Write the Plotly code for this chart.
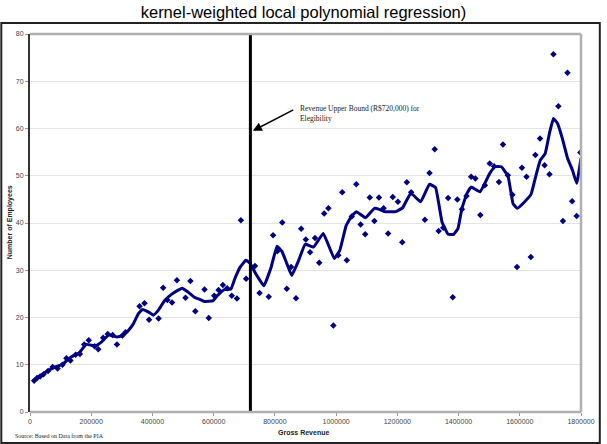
import plotly.graph_objects as go

# ---- data ----
revenue_k = [13.5, 23, 33, 44, 59, 74, 90, 106, 119, 132, 149, 163, 177, 192, 211, 223, 239, 254, 270, 284,
             302, 312, 358, 374, 389, 420, 435, 449, 464, 480, 508, 524, 540, 570, 584, 602, 616, 630, 644, 659,
             676, 689, 706, 735, 750, 780, 794, 808, 824, 839, 853, 869, 886, 901, 915, 931, 945, 961, 975, 991,
             1007, 1020, 1035, 1051, 1066, 1080, 1095, 1110, 1125, 1140, 1155, 1170, 1185, 1202, 1216, 1231, 1245,
             1290, 1305, 1322, 1335, 1350, 1366, 1381, 1396, 1411, 1426, 1441, 1455, 1471, 1486, 1502, 1516, 1532,
             1545, 1561, 1576, 1591, 1607, 1622, 1636, 1651, 1666, 1681, 1697, 1710, 1726, 1741, 1756, 1771, 1786, 1798]
employees = [6.6, 7.2, 7.5, 8.0, 8.7, 9.5, 9.2, 10.0, 11.4, 10.9, 12.1, 12.3, 14.3, 15.2, 13.9, 13.3, 15.7, 16.5, 16.3, 14.3,
             16.2, 16.9, 22.4, 23.0, 19.5, 19.8, 26.3, 23.7, 23.2, 27.9, 24.2, 27.7, 21.3, 25.9, 19.9, 24.6, 25.8, 26.9, 26.2, 24.6,
             24.0, 40.6, 28.2, 30.9, 25.2, 24.4, 37.4, 34.0, 40.1, 26.1, 30.7, 24.1, 38.8, 36.5, 33.8, 36.8, 31.6, 42.0, 43.1, 18.3,
             33.2, 46.5, 32.1, 41.4, 48.2, 39.7, 37.6, 45.4, 40.4, 45.4, 43.1, 37.8, 45.5, 44.5, 35.9, 48.6, 46.5,
             40.7, 50.6, 55.6, 38.3, 39.0, 45.3, 24.3, 45.0, 42.9, 45.7, 49.8, 49.4, 41.7, 48.0, 52.6, 52.0, 48.7,
             56.6, 50.1, 46.0, 30.7, 51.7, 49.8, 32.8, 54.4, 57.9, 52.2, 50.3, 75.7, 64.7, 40.4, 71.8, 44.6, 41.5, 54.9]

fit_x_k = [9, 41, 74, 106, 133, 160, 184, 214, 235, 257, 282, 300, 322, 338, 354, 367, 386, 403, 419, 440,
           462, 484, 497, 516, 537, 548, 570, 597, 613, 635, 656, 669, 686, 705, 719, 737, 764, 788, 807, 823,
           839, 855, 877, 899, 926, 958, 994, 1012, 1033, 1050, 1066, 1096, 1125, 1141, 1157, 1195, 1217, 1244,
           1276, 1305, 1325, 1346, 1366, 1384, 1398, 1411, 1427, 1441, 1470, 1502, 1519, 1540, 1562, 1578, 1592,
           1616, 1637, 1653, 1667, 1683, 1697, 1710, 1723, 1739, 1756, 1772, 1786, 1800]
fit_y = [6.5, 8.0, 9.3, 10.1, 11.6, 12.5, 14.3, 14.0, 14.9, 16.3, 15.9, 16.1, 17.3, 18.7, 20.8, 21.7, 21.2, 20.5, 21.5, 23.6,
         24.9, 25.8, 26.2, 25.4, 24.3, 24.0, 23.4, 23.5, 24.7, 25.9, 26.0, 28.2, 30.6, 32.1, 31.5, 29.3, 26.7, 30.7, 35.1, 34.0,
         31.4, 28.9, 32.0, 35.5, 34.9, 37.8, 32.5, 34.2, 39.5, 41.4, 42.4, 41.1, 43.1, 42.9, 42.4, 42.4, 43.2, 46.3,
         44.5, 48.2, 47.5, 40.2, 37.6, 37.6, 38.8, 43.1, 46.2, 47.6, 46.6, 50.5, 51.9, 51.9, 49.8, 44.1, 43.1,
         44.5, 46.1, 50.1, 53.3, 54.7, 59.0, 62.1, 61.1, 57.9, 53.7, 51.2, 48.4, 53.7]

x_ticks = [0, 200000, 400000, 600000, 800000, 1000000, 1200000, 1400000, 1600000, 1800000]
x_tick_labels = ["0", "200000", "400000", "600000", "800000", "1000000", "1200000", "1400000", "1600000", "1800000"]
y_ticks = [0, 10, 20, 30, 40, 50, 60, 70, 80]
bound = 720000

rev = [v * 1000 for v in revenue_k]
fit_x = [v * 1000 for v in fit_x_k]

NAVY = "#000080"
fig = go.Figure()
fig.add_trace(go.Scatter(x=rev, y=employees, mode="markers",
                         marker=dict(symbol="diamond", size=5, color=NAVY), showlegend=False))
fig.add_trace(go.Scatter(x=fit_x, y=fit_y, mode="lines",
                         line=dict(color=NAVY, width=3, shape="spline", smoothing=0.3), showlegend=False))
fig.add_trace(go.Scatter(x=[bound, bound], y=[0, 80], mode="lines",
                         line=dict(color="black", width=3), showlegend=False))

fig.update_layout(
    width=607, height=444,
    margin=dict(l=30, r=20, t=34, b=32),
    paper_bgcolor="white", plot_bgcolor="white",
    font=dict(family="Liberation Sans, Arial", size=7, color="#333333"),
    title=dict(text="kernel-weighted local polynomial regression)", x=0.5, xanchor="center",
               y=1 - 12 / 444, yanchor="middle",
               font=dict(family="Liberation Sans, Arial", size=16.5, color="black")),
    xaxis=dict(range=[0, 1800000], tickvals=x_ticks, ticktext=x_tick_labels, showgrid=False,
               zeroline=False, showline=False, ticks="outside", ticklen=3, tickcolor="#999999",
               tickfont=dict(size=7, color="#444444")),
    yaxis=dict(range=[0, 80], tickvals=y_ticks, showgrid=True, gridcolor="#e4e4e4", gridwidth=1,
               zeroline=False, showline=True, linecolor="#333333", linewidth=2,
               ticks="outside", ticklen=3, tickcolor="#999999",
               tickfont=dict(size=7, color="#444444")),
)

# plot-area frame (gray) on top/right/bottom
fig.add_shape(type="line", xref="paper", yref="paper", x0=0, x1=1, y0=1, y1=1,
              line=dict(color="#b0b0b0", width=2.5))
fig.add_shape(type="line", xref="paper", yref="paper", x0=1, x1=1, y0=0, y1=1,
              line=dict(color="#b0b0b0", width=2.5))
fig.add_shape(type="line", xref="paper", yref="paper", x0=0, x1=1, y0=0, y1=0,
              line=dict(color="#b0b0b0", width=2.5))

# outer chart border
pw, ph = 557, 378
fig.add_shape(type="rect", xref="paper", yref="paper",
              x0=(1 - 30) / pw, x1=(606 - 30) / pw, y0=(412 - 443) / ph, y1=(412 - 23) / ph,
              line=dict(color="#222222", width=2), fillcolor="rgba(0,0,0,0)", layer="above")

# annotation with arrow
fig.add_annotation(x=bound + 8000, y=59.5, ax=865000, ay=64.1, xref="x", yref="y", axref="x", ayref="y",
                   text="", showarrow=True, arrowhead=2, arrowsize=1.2, arrowwidth=1.5, arrowcolor="black",
                   standoff=0, startstandoff=0)
fig.add_annotation(x=875000, y=63.1, xref="x", yref="y", xanchor="left", yanchor="middle",
                   text="Revenue Upper Bound (R$720,000) for<br>Elegibility", showarrow=False, align="left",
                   font=dict(family="Liberation Serif, Times New Roman", size=7.5, color="#222222"))

# axis titles
fig.add_annotation(x=(306 - 30) / pw, y=(412 - 432) / ph, xref="paper", yref="paper",
                   text="<b>Gross Revenue</b>", showarrow=False, xanchor="center", yanchor="middle",
                   font=dict(size=7, color="#222222"))
fig.add_annotation(x=(10 - 30) / pw, y=(412 - 222) / ph, xref="paper", yref="paper",
                   text="<b>Number of Employees</b>", showarrow=False, textangle=-90,
                   xanchor="center", yanchor="middle", font=dict(size=7, color="#222222"))
fig.add_annotation(x=(13 - 30) / pw, y=(412 - 435.5) / ph, xref="paper", yref="paper",
                   text="Source: Based on Data from the PIA", showarrow=False, xanchor="left", yanchor="middle",
                   font=dict(family="Liberation Serif, Times New Roman", size=6, color="#222222"))

fig.write_html("out.html")
